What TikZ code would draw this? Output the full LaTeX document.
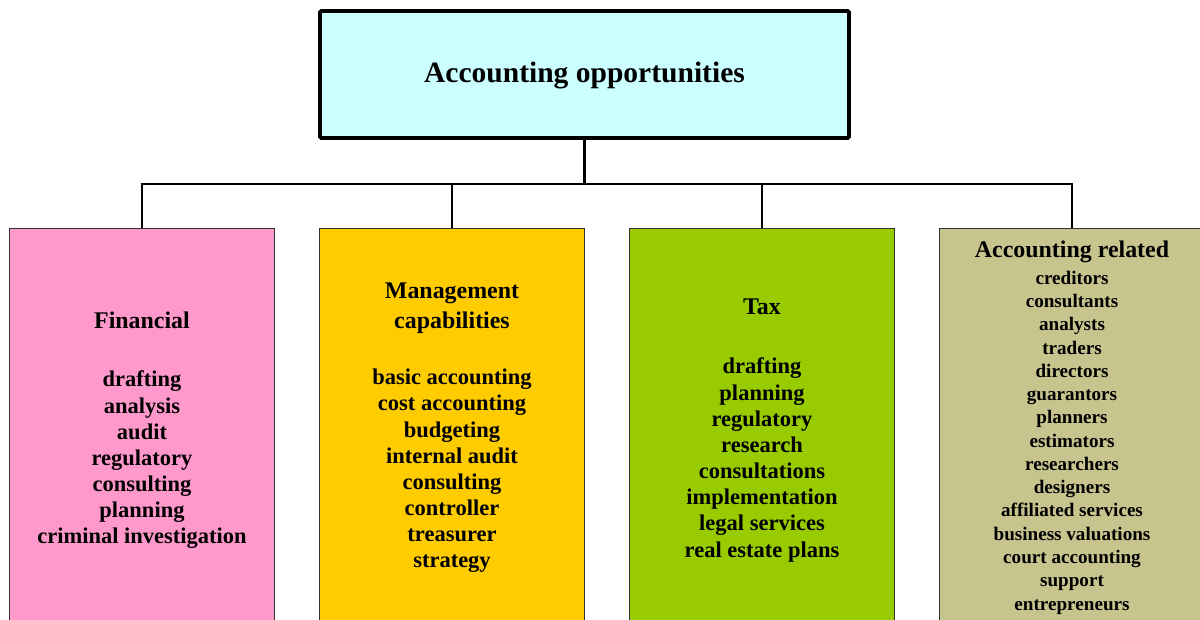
\documentclass[tikz,border=0pt]{standalone}
\usepackage{fontspec}
\setmainfont{Liberation Serif}
\usepackage{xcolor}
\usepackage{tikz}
\usetikzlibrary{positioning, calc}

\definecolor{rootcyan}{HTML}{CCFFFF}
\definecolor{finpink}{HTML}{FF99CC}
\definecolor{mgmtorange}{HTML}{FFCC00}
\definecolor{taxgreen}{HTML}{99CC00}
\definecolor{relkhaki}{HTML}{C7C48E}

\begin{document}
\begin{tikzpicture}[
    x=0.025cm, y=-0.025cm,
    every node/.style={font=\bfseries},
    root/.style={draw, line width=2.8pt, fill=rootcyan, rectangle, rounded corners=1pt, minimum width=529*0.025cm, minimum height=127*0.025cm, inner sep=0pt},
    catbox/.style={draw=black!80, line width=0.7pt, rectangle, minimum width=265*0.025cm, minimum height=396*0.025cm, inner sep=0pt},
    head/.style={align=center, inner sep=0pt, font=\bfseries\fontsize{17}{21.3}\selectfont},
    items/.style={align=center, inner sep=0pt, font=\bfseries\fontsize{16}{18.6}\selectfont},
    smallitems/.style={align=center, inner sep=0pt, font=\bfseries\fontsize{13.6}{16.55}\selectfont},
    link/.style={line width=1.7pt}
]
    \useasboundingbox (0,0) rectangle (1200,619);

    % Root
    \node[root] (top) at (584.5, 74.5) {};
    \node[inner sep=0pt, font=\bfseries\fontsize{21}{25}\selectfont] (toplbl) at (584.5, 76) {Accounting opportunities};

    % Branches
    \node[catbox, fill=finpink] (fin) at (142, 426) {};
    \node[catbox, fill=mgmtorange] (mgmt) at (452, 426) {};
    \node[catbox, fill=taxgreen] (tax) at (762, 426) {};
    \node[catbox, fill=relkhaki] (rel) at (1072, 426) {};

    % Tree lines
    \coordinate (hub) at (584.5, 184);
    \draw[link] (top.south) -- (hub);
    \draw[link] (fin.north) -- (fin.north |- hub) -- (rel.north |- hub) -- (rel.north);
    \draw[link] (mgmt.north) -- (mgmt.north |- hub);
    \draw[link] (tax.north) -- (tax.north |- hub);

    % Labels
    \node[head] (finhd) at (142, 320) {Financial};
    \node[items] (finls) at (142, 460) {drafting\\analysis\\audit\\regulatory\\consulting\\planning\\criminal investigation};

    \node[head] (mgmthd) at (452, 308) {Management\\capabilities};
    \node[items] (mgmtls) at (452, 471) {basic accounting\\cost accounting\\budgeting\\internal audit\\consulting\\controller\\treasurer\\strategy};

    \node[head] (taxhd) at (762, 307) {Tax};
    \node[items] (taxls) at (762, 460) {drafting\\planning\\regulatory\\research\\consultations\\implementation\\legal services\\real estate plans};

    \node[head] (relhd) at (1072, 252) {Accounting related};
    \node[smallitems] (rells) at (1072, 442.5) {creditors\\consultants\\analysts\\traders\\directors\\guarantors\\planners\\estimators\\researchers\\designers\\affiliated services\\business valuations\\court accounting\\support\\entrepreneurs};

\end{tikzpicture}
\end{document}
